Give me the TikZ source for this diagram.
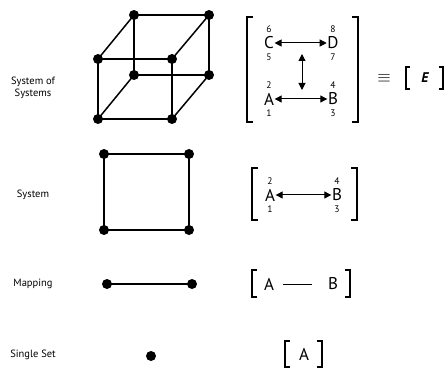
\documentclass[tikz,border=0pt]{standalone}
\usepackage{fontspec}
\setmainfont{PT Sans}
\usetikzlibrary{arrows.meta}
\begin{document}
\begin{tikzpicture}[x=1pt,y=-1pt,
  dot/.style={circle,fill=black,inner sep=0pt,minimum size=10pt},
  edge/.style={line width=1.5pt},
  lbl/.style={font=\fontsize{10.5}{12}\selectfont,align=center,inner sep=0pt},
  let/.style={font=\fontsize{17}{17}\selectfont,inner sep=0.5pt},
  num/.style={font=\fontsize{9.5}{9.5}\selectfont,inner sep=0pt},
  brk/.style={line width=2pt},
  dbl/.style={line width=1pt,{Triangle[length=7pt,width=7pt]}-{Triangle[length=7pt,width=7pt]}}]
\useasboundingbox (0,0) rectangle (448,369);
% labels
\node[lbl] (l1) at (33,88) {System of\\Systems};
\node[lbl] (l2) at (33,195) {System};
\node[lbl] (l3) at (33,284) {Mapping};
\node[lbl] (l4) at (33,355) {Single Set};
% cube
\node[dot] (btl) at (134,15) {};
\node[dot] (btr) at (209,15) {};
\node[dot] (ftl) at (98,59) {};
\node[dot] (ftr) at (172,59) {};
\node[dot] (bbl) at (134,75) {};
\node[dot] (bbr) at (209,75) {};
\node[dot] (fbl) at (98,119) {};
\node[dot] (fbr) at (172,119) {};
\draw[edge] (btl.center) -- (btr.center) -- (bbr.center) -- (bbl.center) -- (btl.center);
\draw[edge] (ftl.center) -- (ftr.center) -- (fbr.center) -- (fbl.center) -- (ftl.center);
\draw[edge] (btl.center) -- (ftl.center);
\draw[edge] (btr.center) -- (ftr.center);
\draw[edge] (bbl.center) -- (fbl.center);
\draw[edge] (bbr.center) -- (fbr.center);
% square
\node[dot] (stl) at (104,154) {};
\node[dot] (str) at (189,154) {};
\node[dot] (sbl) at (104,230) {};
\node[dot] (sbr) at (189,230) {};
\draw[edge] (stl.center) -- (str.center) -- (sbr.center) -- (sbl.center) -- (stl.center);
% mapping
\node[dot] (ma) at (107,284) {};
\node[dot] (mb) at (192,284) {};
\draw[edge] (ma.center) -- (mb.center);
% single
\node[dot] (sa) at (151,356) {};
% big matrix
\draw[brk] (253,17) -- (247,17) -- (247,122) -- (253,122);
\draw[brk] (352,17) -- (358,17) -- (358,122) -- (352,122);
\node[let] (C) at (269,43) {C};
\node[let] (D) at (333,43) {D};
\node[let] (A) at (269,99) {A};
\node[let] (B) at (333,99) {B};
\node[num] at (269,29) {6};
\node[num] at (269,57) {5};
\node[num] at (333,29) {8};
\node[num] at (333,57) {7};
\node[num] at (269,85) {2};
\node[num] at (269,113) {1};
\node[num] at (333,85) {4};
\node[num] at (333,113) {3};
\draw[dbl] (C.east) -- (D.west);
\draw[dbl] (A.east) -- (B.west);
\coordinate (vt) at (302,54);
\coordinate (vb) at (302,90);
\draw[dbl] (vt) -- (vb);
\node[font=\fontsize{17}{17}\selectfont] (eq) at (384,78) {$\equiv$};
\draw[brk] (410,67) -- (406,67) -- (406,89) -- (410,89);
\draw[brk] (439,67) -- (443,67) -- (443,89) -- (439,89);
\node[font=\fontsize{14}{14}\selectfont\bfseries\itshape] (E) at (425,78) {E};
% system matrix
\draw[brk] (258,168) -- (252,168) -- (252,220) -- (258,220);
\draw[brk] (351,168) -- (357,168) -- (357,220) -- (351,220);
\node[let] (A2) at (270,195) {A};
\node[let] (B2) at (337,195) {B};
\node[num] at (270,181) {2};
\node[num] at (270,209) {1};
\node[num] at (337,181) {4};
\node[num] at (337,209) {3};
\draw[dbl] (A2.east) -- (B2.west);
% mapping matrix
\draw[brk] (257,270) -- (252,270) -- (252,297) -- (257,297);
\draw[brk] (345,270) -- (350,270) -- (350,297) -- (345,297);
\node[let] (A3) at (269,284) {A};
\node[let] (B3) at (333,284) {B};
\draw[line width=0.8pt] (283,284) -- (312,284);
% single matrix
\draw[brk] (290,341) -- (285,341) -- (285,367) -- (290,367);
\draw[brk] (317,341) -- (322,341) -- (322,367) -- (317,367);
\node[let] (A4) at (304,354) {A};
\end{tikzpicture}
\end{document}
